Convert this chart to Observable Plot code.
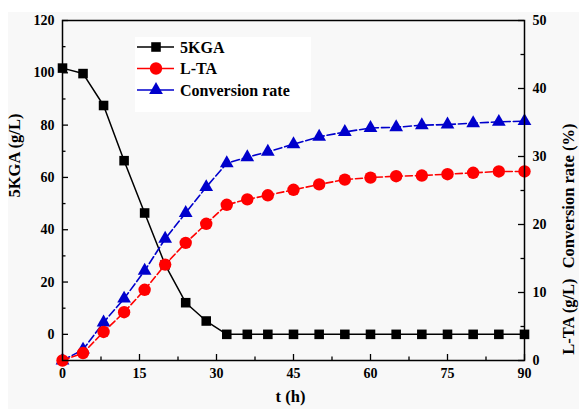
<!DOCTYPE html>
<html><head><meta charset="utf-8">
<script src="https://cdn.jsdelivr.net/npm/d3@7"></script>
<script src="https://cdn.jsdelivr.net/npm/@observablehq/plot@0.6"></script>
<style>
body{margin:0;background:#fff;}
#chart{position:relative;width:579px;height:409px;}
svg{font-family:"Liberation Serif","Times New Roman",serif;}
</style></head><body><div id="chart"></div>
<script>
// Data
const time = [0,4,8,12,16,20,24,28,32,36,40,45,50,55,60,65,70,75,80,85,90];
const kga  = [101.8,99.7,87.5,66.4,46.4,26.6,12.1,5.1,0,0,0,0,0,0,0,0,0,0,0,0,0];           // left axis (g/L)
const lta  = [0,1.1,4.2,7.1,10.4,14.1,17.3,20.1,22.9,23.7,24.3,25.1,25.9,26.6,26.9,27.1,27.2,27.4,27.6,27.8,27.8]; // right axis
const conv = [0,1.6,5.6,9.1,13.2,17.9,21.7,25.5,29.0,29.9,30.7,31.8,32.9,33.6,34.2,34.3,34.6,34.7,34.9,35.1,35.2]; // right axis (%)
const xTicks = [0,15,30,45,60,75,90];
const xMinor = [7.5,22.5,37.5,52.5,67.5,82.5];
const leftTicks = [0,20,40,60,80,100,120];
const leftMinor = [10,30,50,70,90,110];
const rightTicks = [0,10,20,30,40,50];
const rightMinor = [5,15,25,35,45];
const seriesNames = ["5KGA","L-TA","Conversion rate"];
const seriesColors = ["#000000","#ff0000","#0000cc"];
const seriesSymbols = ["square","circle","triangle"];

const leftDomain = [-10,120];
const rightDomain = [0,50];
const toLeft = v => leftDomain[0] + (v - rightDomain[0]) * (leftDomain[1]-leftDomain[0])/(rightDomain[1]-rightDomain[0]);
const fromLeft = v => rightDomain[0] + (v - leftDomain[0]) * (rightDomain[1]-rightDomain[0])/(leftDomain[1]-leftDomain[0]);

const rows = time.map((t,i)=>({t, kga:kga[i], lta:toLeft(lta[i]), conv:toLeft(conv[i])}));

const W = 579, H = 409, mL = 62, mR = 55, mT = 20, mB = 49;
const fw = W - mL - mR, fh = H - mT - mB;
const major = 6, minor = 3.5;

const plot = Plot.plot({
  width:W, height:H,
  marginLeft:mL, marginRight:mR, marginTop:mT, marginBottom:mB,
  style:{fontFamily:"Liberation Serif, Times New Roman, serif", background:"transparent", overflow:"visible"},
  x:{domain:[0,90]},
  y:{domain:leftDomain},
  marks:[
    // tick labels
    Plot.axisX({ticks:xTicks, tickSize:0, tickPadding:8, label:null, fontSize:14, fontWeight:"bold", tickFormat:d=>d}),
    Plot.axisY({ticks:leftTicks, tickSize:0, tickPadding:8, label:null, fontSize:14, fontWeight:"bold", tickFormat:d=>d}),
    Plot.axisY({anchor:"right", ticks:rightTicks.map(toLeft), tickSize:0, tickPadding:8, label:null, fontSize:14, fontWeight:"bold", tickFormat:d=>Math.round(fromLeft(d))}),
    // inward ticks
    Plot.tickX(xTicks, {x:d=>d, insetTop:fh-major, stroke:"#000", strokeWidth:1.3}),
    Plot.tickX(xMinor, {x:d=>d, insetTop:fh-minor, stroke:"#000", strokeWidth:1.3}),
    Plot.tickY(leftTicks, {y:d=>d, insetRight:fw-major, stroke:"#000", strokeWidth:1.3}),
    Plot.tickY(leftMinor, {y:d=>d, insetRight:fw-minor, stroke:"#000", strokeWidth:1.3}),
    Plot.tickY(rightTicks.map(toLeft), {y:d=>d, insetLeft:fw-major, stroke:"#000", strokeWidth:1.3}),
    Plot.tickY(rightMinor.map(toLeft), {y:d=>d, insetLeft:fw-minor, stroke:"#000", strokeWidth:1.3}),
    // titles
    Plot.text(["5KGA (g/L)"], {frameAnchor:"left", dx:-48, dy:7, rotate:-90, fontSize:16.5, fontWeight:"bold", text:d=>d}),
    Plot.text(["Conversion rate (%)"], {frameAnchor:"right", dx:44, dy:-67, rotate:-90, fontSize:16.5, fontWeight:"bold", text:d=>d}),
    Plot.text(["L-TA (g/L)"], {frameAnchor:"right", dx:44, dy:88, rotate:-90, fontSize:16.5, fontWeight:"bold", text:d=>d}),
    Plot.text(["t (h)"], {frameAnchor:"bottom", dx:-3, dy:41, fontSize:16.5, fontWeight:"bold", text:d=>d}),
    // series
    Plot.line(rows, {x:"t", y:"kga", stroke:seriesColors[0], strokeWidth:1.5}),
    Plot.dot(rows, {x:"t", y:"kga", symbol:"square", r:5.4, fill:seriesColors[0], stroke:"none"}),
    Plot.line(rows, {x:"t", y:"conv", stroke:seriesColors[2], strokeWidth:1.6, strokeDasharray:"8,3"}),
    Plot.dot(rows, {x:"t", y:"conv", symbol:"triangle", r:5.1, fill:seriesColors[2], stroke:"none"}),
    Plot.line(rows, {x:"t", y:"lta", stroke:seriesColors[1], strokeWidth:1.6, strokeDasharray:"7,3"}),
    Plot.dot(rows, {x:"t", y:"lta", symbol:"circle", r:6.2, fill:seriesColors[1], stroke:"none"}),
    Plot.frame({stroke:"#000", strokeWidth:1.5})
  ]
});
document.getElementById("chart").appendChild(plot);

// background panels and legend
const svg = d3.select(plot);
svg.insert("rect", ":first-child").attr("x",8).attr("y",12).attr("width",571).attr("height",397).attr("fill","#f8f8f8");
const lg = svg.append("g").attr("text-anchor","start");
lg.append("rect").attr("x",135).attr("y",37).attr("width",176).attr("height",75).attr("fill","#ffffff");
const sym = {square:d3.symbolSquare, circle:d3.symbolCircle, triangle:d3.symbolTriangle};
const sizes = {square:Math.PI*5.4*5.4, circle:Math.PI*6.2*6.2, triangle:Math.PI*5.1*5.1};
seriesNames.forEach((name,i)=>{
  const y = 47 + i*21.5;
  lg.append("line").attr("x1",137).attr("x2",174).attr("y1",y).attr("y2",y).attr("stroke",seriesColors[i]).attr("stroke-width",1.6);
  lg.append("path").attr("d", d3.symbol(sym[seriesSymbols[i]], sizes[seriesSymbols[i]])()).attr("transform",`translate(156,${y})`).attr("fill",seriesColors[i]);
  lg.append("text").attr("x",180).attr("y",y).attr("dy","0.35em").attr("text-anchor","start").attr("font-size",16).attr("font-weight","bold").attr("fill","#000").text(name);
});
</script>
</body></html>
